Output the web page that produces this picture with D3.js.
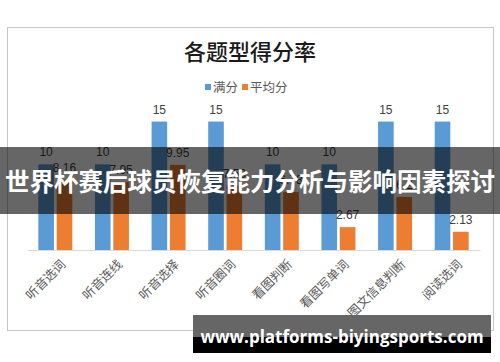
<!DOCTYPE html>
<html>
<head>
<meta charset="utf-8">
<script src="https://cdn.jsdelivr.net/npm/d3@7"></script>
<style>
  html, body { margin: 0; padding: 0; background: #fff; }
  svg { display: block; }
</style>
</head>
<body>
<svg id="chart" width="500" height="362"></svg>
<script>
var categories = ["听音选词", "听音连线", "听音选择", "听音圈词", "看图判断", "看图写单词", "图文信息判断", "阅读选词"];
var fullScores = [10, 10, 15, 15, 10, 10, 15, 15];
var avgScores = [8.16, 7.95, 9.95, 7.53, 6.78, 2.67, 6.2, 2.13];
var seriesNames = ["满分", "平均分"];
var seriesColours = ["#5B9BD5", "#ED7D31"];

var svg = d3.select("#chart");
var cjk = "'Noto Sans CJK SC', sans-serif";

// chart frame
svg.append("rect")
  .attr("x", 7.5).attr("y", 27.5)
  .attr("width", 486).attr("height", 303)
  .attr("fill", "#fff")
  .attr("stroke", "#c8c8c8");

svg.append("text")
  .attr("x", 250).attr("y", 60)
  .attr("text-anchor", "middle")
  .attr("font-family", cjk)
  .attr("font-weight", 500)
  .attr("font-size", 22)
  .attr("fill", "#1a1a1a")
  .text("各题型得分率");

// legend
var legend = svg.append("g").attr("font-family", cjk).attr("font-size", 12.5).attr("fill", "#595959");
var legendX = [205, 242];
seriesNames.forEach(function (name, i) {
  legend.append("rect")
    .attr("x", legendX[i]).attr("y", 84)
    .attr("width", 6).attr("height", 6)
    .attr("fill", seriesColours[i]);
  legend.append("text")
    .attr("x", legendX[i] + 8).attr("y", 92)
    .text(name);
});

var x0 = d3.scaleBand()
  .domain(categories)
  .range([27, 480])
  .paddingInner(0.4)
  .paddingOuter(0.2);

var x1 = d3.scaleBand()
  .domain(seriesNames)
  .range([0, x0.bandwidth()])
  .paddingInner(0.15);

var y = d3.scaleLinear()
  .domain([0, 16])
  .range([250, 113]);

var rows = categories.map(function (c, i) {
  return { cat: c, values: [fullScores[i], avgScores[i]] };
});

var groups = svg.selectAll("g.cat").data(rows).enter()
  .append("g")
  .attr("class", "cat")
  .attr("transform", function (d) { return "translate(" + x0(d.cat) + ",0)"; });

groups.selectAll("rect").data(function (d) {
    return d.values.map(function (v, j) { return { s: seriesNames[j], v: v, j: j }; });
  }).enter()
  .append("rect")
  .attr("x", function (d) { return x1(d.s); })
  .attr("y", function (d) { return y(d.v); })
  .attr("width", x1.bandwidth())
  .attr("height", function (d) { return y(0) - y(d.v); })
  .attr("fill", function (d) { return seriesColours[d.j]; });

groups.selectAll("text").data(function (d) {
    return d.values.map(function (v, j) { return { s: seriesNames[j], v: v }; });
  }).enter()
  .append("text")
  .attr("x", function (d) { return x1(d.s) + x1.bandwidth() / 2; })
  .attr("y", function (d) { return y(d.v) - 8; })
  .attr("text-anchor", "middle")
  .attr("font-family", "'Liberation Sans', sans-serif")
  .attr("font-size", 12)
  .attr("fill", "#404040")
  .text(function (d) { return d.v; });

// x axis
var axis = svg.append("g")
  .attr("transform", "translate(0," + y(0) + ")")
  .call(d3.axisBottom(x0).tickSize(0).tickPadding(0));
axis.select(".domain").attr("stroke", "#d9d9d9").attr("stroke-width", 1.2);
axis.selectAll(".tick text")
  .attr("font-family", cjk)
  .attr("font-size", 12.5)
  .attr("fill", "#595959")
  .attr("text-anchor", "end")
  .attr("dy", "0.35em")
  .attr("transform", "translate(8,12) rotate(-45)");

// overlay banner
svg.append("rect")
  .attr("x", 0).attr("y", 147)
  .attr("width", 500).attr("height", 67)
  .attr("fill", "rgba(0,0,0,0.6)");
svg.append("text")
  .attr("x", 250).attr("y", 191)
  .attr("text-anchor", "middle")
  .attr("font-family", cjk)
  .attr("font-weight", "bold")
  .attr("font-size", 24.5)
  .attr("fill", "#fff")
  .text("世界杯赛后球员恢复能力分析与影响因素探讨");

// watermark
svg.append("rect")
  .attr("x", 193).attr("y", 315)
  .attr("width", 298).attr("height", 38)
  .attr("fill", "#000");
svg.append("rect")
  .attr("x", 193).attr("y", 315)
  .attr("width", 298).attr("height", 22)
  .attr("fill", "#666");
svg.append("text")
  .attr("x", 342).attr("y", 343)
  .attr("text-anchor", "middle")
  .attr("font-family", "'Open Sans', 'DejaVu Sans', sans-serif")
  .attr("font-weight", "bold")
  .attr("font-size", 17)
  .attr("fill", "#fff")
  .text("www.platforms-biyingsports.com");
</script>
</body>
</html>
